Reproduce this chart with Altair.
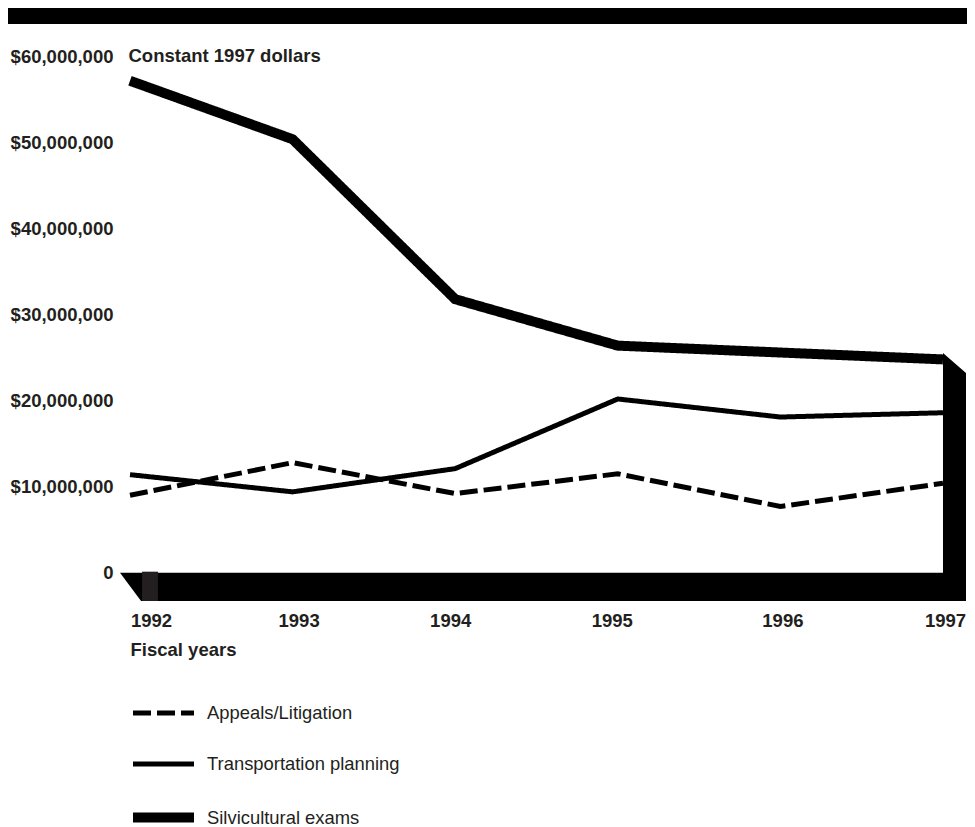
import altair as alt
import pandas as pd

# ---- data (values in $ millions, constant 1997 dollars) ----
years = [1992, 1993, 1994, 1995, 1996, 1997]
series_names = ["Appeals/Litigation", "Transportation planning", "Silvicultural exams"]
appeals = [9.0, 12.8, 9.2, 11.5, 7.7, 10.4]
transport = [11.4, 9.4, 12.1, 20.2, 18.1, 18.6]
silvicultural = [57.2, 50.4, 31.8, 26.4, 25.6, 24.8]
y_tick_values = [0, 10_000_000, 20_000_000, 30_000_000, 40_000_000, 50_000_000, 60_000_000]

rows = []
for name, vals in zip(series_names, [appeals, transport, silvicultural]):
    for yr, v in zip(years, vals):
        rows.append({"year": yr, "amount": v * 1_000_000, "series": name})
df = pd.DataFrame(rows)

# ---- scale extents (data units) ----
X_MIN, X_MAX = 1991.9385, 1997.1415
Y_MIN, Y_MAX = -3_290_000, 63_100_000

x_scale = alt.Scale(domain=[X_MIN, X_MAX], nice=False, zero=False)
y_scale = alt.Scale(domain=[Y_MIN, Y_MAX], nice=False, zero=False)

TEXT = "#231f20"
FONT = "Liberation Sans"
BOLD_SIZE = 18.5

# ---- decorative 3-D frame (floor and right wall) in data units ----
floor_df = pd.DataFrame({"fy": [0, Y_MIN], "fx": [X_MIN, 1992.068], "fx2": [X_MAX, X_MAX]})
wall_df = pd.DataFrame({"wx": [1997.0, X_MAX], "wy": [25_550_000, 23_220_000], "wy2": [Y_MIN, Y_MIN]})
notch_df = pd.DataFrame({"nx": [1992.074], "nx2": [1992.172], "ny": [120_000], "ny2": [Y_MIN]})

floor = alt.Chart(floor_df).mark_area(orient="horizontal", color="black").encode(
    y=alt.Y("fy:Q", scale=y_scale, axis=None),
    x=alt.X("fx:Q", scale=x_scale, axis=None),
    x2="fx2:Q",
)

wall = alt.Chart(wall_df).mark_area(orient="vertical", color="black").encode(
    x=alt.X("wx:Q", scale=x_scale, axis=None),
    y=alt.Y("wy:Q", scale=y_scale, axis=None),
    y2="wy2:Q",
)

notch = alt.Chart(notch_df).mark_rect(color="#231f20").encode(
    x=alt.X("nx:Q", scale=x_scale, axis=None),
    x2="nx2:Q",
    y=alt.Y("ny:Q", scale=y_scale, axis=None),
    y2="ny2:Q",
)

legend = alt.Legend(
    title=None,
    orient="none",
    legendX=28,
    legendY=670,
    direction="vertical",
    symbolType="M-3,0H3",
    symbolSize=413,
    symbolStrokeColor="black",
    labelFont=FONT,
    labelFontSize=18.4,
    labelColor=TEXT,
    labelOffset=28,
    labelLimit=0,
    gridAlign="all",
    rowPadding=10,
    padding=0,
)

lines = alt.Chart(df).mark_line(color="black", strokeCap="butt", strokeJoin="miter").encode(
    x=alt.X(
        "year:Q",
        scale=x_scale,
        axis=alt.Axis(
            values=years,
            format="d",
            domain=False,
            ticks=False,
            grid=False,
            labelFont=FONT,
            labelFontSize=BOLD_SIZE,
            labelFontWeight="bold",
            labelColor=TEXT,
            labelPadding=10,
            labelOverlap=False,
            labelFlush=False,
            labelOffset={
                "condition": [
                    {"test": "datum.value == 1992", "value": 21},
                    {"test": "datum.value == 1993", "value": 6},
                    {"test": "datum.value == 1994", "value": -5},
                    {"test": "datum.value == 1995", "value": -6},
                ],
                "value": 2,
            },
            title="Fiscal years",
            titleFont=FONT,
            titleFontSize=BOLD_SIZE,
            titleFontWeight="bold",
            titleColor=TEXT,
            titleAnchor="start",
            titleAlign="left",
            titleBaseline="alphabetic",
            titleX=10,
            titleY=54,
        ),
    ),
    y=alt.Y(
        "amount:Q",
        scale=y_scale,
        axis=alt.Axis(
            values=y_tick_values,
            labelExpr="datum.value == 0 ? '0' : '$' + format(datum.value, ',')",
            domain=False,
            ticks=False,
            grid=False,
            labelFont=FONT,
            labelFontSize=BOLD_SIZE,
            labelFontWeight="bold",
            labelColor=TEXT,
            labelPadding=7,
            labelOverlap=False,
            labelFlush=False,
            title="Constant 1997 dollars",
            titleFont=FONT,
            titleFontSize=BOLD_SIZE,
            titleFontWeight="bold",
            titleColor=TEXT,
            titleAngle=0,
            titleAlign="left",
            titleBaseline="alphabetic",
            titleX=8,
            titleY=31,
        ),
    ),
    strokeDash=alt.StrokeDash(
        "series:N",
        scale=alt.Scale(domain=series_names, range=[[18, 6], [1, 0], [1, 0]]),
        legend=legend,
    ),
    strokeWidth=alt.StrokeWidth(
        "series:N",
        scale=alt.Scale(type="ordinal", domain=series_names, range=[5, 5, 10]),
        legend=legend,
    ),
    detail="series:N",
)

topbar = alt.Chart(pd.DataFrame({"k": [0]})).mark_rect(color="black").encode(
    x=alt.value(-112), x2=alt.value(847), y=alt.value(-22), y2=alt.value(-6)
)

chart = alt.layer(lines, floor, wall, notch, topbar).resolve_axis(
    x="independent", y="independent"
).properties(
    width=846,
    height=571,
    padding={"left": 112, "top": 22, "right": 1, "bottom": 232},
    autosize=alt.AutoSizeParams(type="none"),
    background="white",
).configure_view(stroke=None)

chart.save("out.html", embed_options={"renderer": "svg", "actions": False})
